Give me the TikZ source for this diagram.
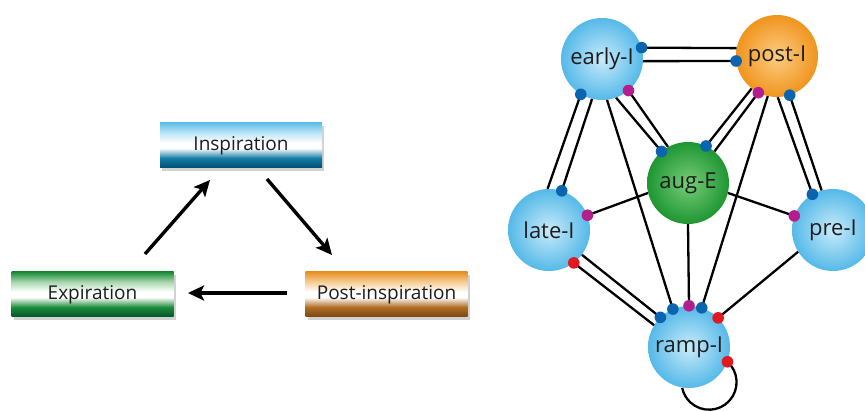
\documentclass[tikz,border=0pt]{standalone}
\usepackage{fontspec}
\setmainfont{Open Sans}
\usetikzlibrary{arrows.meta,shadows}

\definecolor{txt}{RGB}{30,28,30}
% box colours
\definecolor{iT}{RGB}{95,190,232}
\definecolor{iL}{RGB}{190,230,247}
\definecolor{iM}{RGB}{20,125,165}
\definecolor{iD}{RGB}{0,78,112}
\definecolor{eT}{RGB}{25,140,55}
\definecolor{eL}{RGB}{170,215,175}
\definecolor{eM}{RGB}{30,140,60}
\definecolor{eD}{RGB}{0,85,40}
\definecolor{pT}{RGB}{232,145,35}
\definecolor{pL}{RGB}{245,205,150}
\definecolor{pM}{RGB}{175,110,35}
\definecolor{pD}{RGB}{120,70,20}
% sphere colours
\definecolor{bIn}{RGB}{200,235,250}
\definecolor{bOut}{RGB}{85,185,232}
\definecolor{oIn}{RGB}{252,205,130}
\definecolor{oOut}{RGB}{240,148,30}
\definecolor{gIn}{RGB}{120,205,120}
\definecolor{gOut}{RGB}{30,150,50}
% dots
\definecolor{dBlue}{RGB}{10,100,175}
\definecolor{dMag}{RGB}{180,30,140}
\definecolor{dRed}{RGB}{225,25,35}

\pgfdeclareverticalshading{inspshade}{100bp}{color(0bp)=(iD); color(25bp)=(iD); color(36bp)=(iM); color(47bp)=(white); color(53bp)=(white); color(64bp)=(iL); color(75bp)=(iT); color(100bp)=(iT)}
\pgfdeclareverticalshading{expshade}{100bp}{color(0bp)=(eD); color(25bp)=(eD); color(36bp)=(eM); color(47bp)=(white); color(53bp)=(white); color(64bp)=(eL); color(75bp)=(eT); color(100bp)=(eT)}
\pgfdeclareverticalshading{postshade}{100bp}{color(0bp)=(pD); color(25bp)=(pD); color(36bp)=(pM); color(47bp)=(white); color(53bp)=(white); color(64bp)=(pL); color(75bp)=(pT); color(100bp)=(pT)}

\tikzset{
  phasebox/.style={minimum width=162pt, minimum height=45pt, inner sep=0pt,
    font=\fontsize{19}{22}\selectfont, text=txt,
    drop shadow={shadow xshift=2pt, shadow yshift=-3pt, opacity=0.35}},
  ball/.style={circle, minimum size=82pt, inner sep=0pt,
    font=\fontsize{22}{26}\selectfont, text=txt, shading=radial},
  blueball/.style={ball, inner color=bIn, outer color=bOut},
  orangeball/.style={ball, inner color=oIn, outer color=oOut},
  greenball/.style={ball, inner color=gIn, outer color=gOut},
  arr/.style={line width=3.4pt, -{Stealth[length=16pt,width=15pt,inset=3.5pt]}},
  link/.style={line width=2.3pt, black},
  syn/.style={radius=5.8pt},
}

\begin{document}
\begin{tikzpicture}[x=1pt,y=1pt]
\useasboundingbox (0,0) rectangle (865,410);
\fill[white] (0,0) rectangle (865,410);

% ---- left: phase cycle ----
\node[phasebox, shading=inspshade] (insp) at (241,264.5) {Inspiration};
\node[phasebox, shading=expshade] (exp) at (92.5,115.5) {Expiration};
\node[phasebox, shading=postshade] (post) at (386.5,115.5) {Post-inspiration};

\coordinate (e1) at (145,156);
\coordinate (i1) at (210,230);
\coordinate (i2) at (267,231);
\coordinate (p1) at (332,155);
\coordinate (p2) at (287,117);
\coordinate (e2) at (188,117);
\draw[arr] (e1) -- (i1);
\draw[arr] (i2) -- (p1);
\draw[arr] (p2) -- (e2);

% ---- right: network ----
\node[blueball] (E) at (602,351) {early-I};
\node[orangeball] (P) at (777,354) {post-I};
\node[greenball] (A) at (688,227) {aug-E};
\node[blueball] (L) at (549,180) {late-I};
\node[blueball] (R) at (833,180) {pre-I};
\node[blueball] (M) at (689,63) {ramp-I};

\draw[link] (E.16) -- (P.169);
\draw[link] (E.-3) -- (P.187);
\draw[link] (E.-121) -- (L.92);
\draw[link] (E.-104) -- (L.72);
\draw[link] (E.-83) -- (M.113);
\draw[link] (E.-70) -- (A.130);
\draw[link] (E.-50) -- (A.119);
\draw[link] (P.-128) -- (A.64);
\draw[link] (P.-117) -- (A.50);
\draw[link] (P.-103) -- (M.72);
\draw[link] (P.-89) -- (R.120);
\draw[link] (P.-72) -- (R.106);
\draw[link] (A.194) -- (L.21);
\draw[link] (A.-14) -- (R.160);
\draw[link] (A.-90) -- (M.90);
\draw[link] (L.-37) -- (M.134);
\draw[link] (L.-53) -- (M.148);
\draw[link] (R.212) -- (M.45);
\draw[link] (M.-21) arc[start angle=48, end angle=-168, radius=27.5pt];

% synaptic dots
\fill[dBlue, syn] (E.16) circle;
\fill[dBlue, syn] (P.187) circle;
\fill[dBlue, syn] (E.-121) circle;
\fill[dBlue, syn] (L.72) circle;
\fill[dBlue, syn] (M.113) circle;
\fill[dBlue, syn] (A.130) circle;
\fill[dMag, syn] (E.-50) circle;
\fill[dBlue, syn] (A.64) circle;
\fill[dMag, syn] (P.-117) circle;
\fill[dBlue, syn] (M.72) circle;
\fill[dBlue, syn] (R.120) circle;
\fill[dBlue, syn] (P.-72) circle;
\fill[dMag, syn] (L.21) circle;
\fill[dMag, syn] (R.160) circle;
\fill[dMag, syn] (M.90) circle;
\fill[dBlue, syn] (M.134) circle;
\fill[dRed, syn] (L.-53) circle;
\fill[dRed, syn] (M.45) circle;
\fill[dRed, syn] (M.-21) circle;
\end{tikzpicture}
\end{document}
